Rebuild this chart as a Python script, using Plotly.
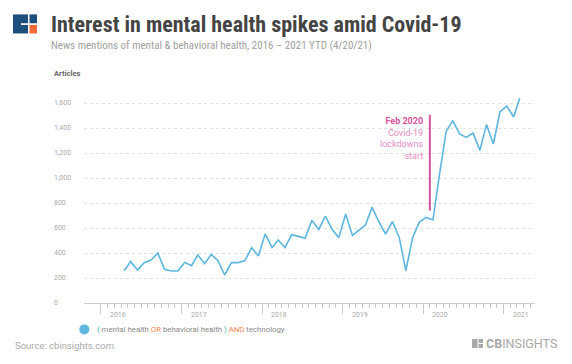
import pandas as pd
import plotly.graph_objects as go

# ---- data ----
months = pd.date_range("2016-04-01", periods=60, freq="MS") + pd.Timedelta(days=14)
articles = [258, 331, 264, 323, 344, 400, 269, 256, 256, 325, 299, 385,
            315, 388, 339, 224, 323, 323, 339, 443, 376, 552, 443, 504,
            443, 547, 533, 517, 661, 589, 696, 587, 523, 712, 541, 584,
            624, 765, 648, 552, 651, 525, 259, 525, 645, 685, 664, 1020,
            1373, 1459, 1352, 1325, 1360, 1221, 1427, 1272, 1528, 1576, 1488, 1640]
y_ticks = [0, 200, 400, 600, 800, 1000, 1200, 1400, 1600]
year_labels = ["2016", "2017", "2018", "2019", "2020", "2021"]

# page has an 8px body margin -> shrink figure and offset everything
OFF = 8
PW, PH = 572, 364
W, H = PW - OFF, PH - OFF
L, R, T, B = 84, 535, 78.4, 302.7   # plot area in page pixels


def px(x):
    return (x - L) / (R - L)


def py(y):
    return (B - y) / (B - T)


LINE = "#5cb6de"
PINK = "#d9529f"
PINK2 = "#e68cc4"

fig = go.Figure()
fig.add_trace(go.Scatter(x=months, y=articles, mode="lines",
                         line=dict(color=LINE, width=1.6), showlegend=False,
                         hoverinfo="x+y"))

ann = []
shapes = []

# y tick labels (left aligned)
for v in y_ticks:
    ann.append(dict(x=px(52), xref="paper", y=v, yref="y", xanchor="left", yanchor="middle",
                    text=f"{v:,}", showarrow=False, font=dict(size=7, color="#aaaaaa", family="Roboto")))

# year labels
for yl in year_labels:
    ann.append(dict(x=f"{yl}-01-01", xref="x", y=py(315), yref="paper", xanchor="left", yanchor="middle",
                    xshift=7, text=yl, showarrow=False, font=dict(size=7, color="#aaaaaa", family="Roboto")))

# titles
ann.append(dict(x=px(49), xref="paper", y=py(25), yref="paper", xanchor="left", yanchor="middle",
                text="<b>Interest in mental health spikes amid Covid-19</b>", showarrow=False,
                font=dict(size=22, color="#444444", family="Roboto Condensed, Roboto")))
ann.append(dict(x=px(49), xref="paper", y=py(46), yref="paper", xanchor="left", yanchor="middle",
                text="News mentions of mental &amp; behavioral health, 2016 \u2013 2021 YTD (4/20/21)", showarrow=False,
                font=dict(size=11, color="#a0a0a0", family="Roboto Condensed, Roboto")))
ann.append(dict(x=px(52), xref="paper", y=py(74), yref="paper", xanchor="left", yanchor="middle",
                text="<b>Articles</b>", showarrow=False,
                font=dict(size=7.5, color="#666666", family="Roboto")))

# covid annotation
shapes.append(dict(type="line", xref="x", yref="y", x0="2020-02-01", x1="2020-02-01", y0=740, y1=1505,
                   line=dict(color=PINK, width=2)))
ann.append(dict(x="2020-02-01", xref="x", y=py(114), yref="paper", xanchor="right", yanchor="top",
                xshift=-5, align="right",
                text=f"<b>Feb 2020</b><br><span style='color:{PINK2}'>Covid-19<br>lockdowns<br>start</span>",
                showarrow=False, font=dict(size=9, color=PINK, family="Roboto")))

# legend
shapes.append(dict(type="circle", xref="paper", yref="paper", xsizemode="pixel", ysizemode="pixel",
                   xanchor=px(84.3), yanchor=py(329), x0=-5, x1=5, y0=-5, y1=5,
                   fillcolor=LINE, line=dict(width=0)))
ann.append(dict(x=px(95), xref="paper", y=py(329), yref="paper", xanchor="left", yanchor="middle",
                text="<span style='color:#3dbf9a'>(</span> mental health <span style='color:#f5834f'>OR</span> "
                     "behavioral health <span style='color:#3dbf9a'>)</span> <span style='color:#f5834f'>AND</span> technology",
                showarrow=False, font=dict(size=7.8, color="#8a8a8a", family="Roboto")))

# source
ann.append(dict(x=px(13), xref="paper", y=py(345), yref="paper", xanchor="left", yanchor="middle",
                text="Source: cbinsights.com", showarrow=False,
                font=dict(size=9.5, color="#aaaaaa", family="Roboto")))

# CB Insights footer logo
ann.append(dict(x=px(559), xref="paper", y=py(343), yref="paper", xanchor="right", yanchor="middle",
                text="<b>CB</b>INSIGHTS", showarrow=False,
                font=dict(size=12.5, color="#a8a8a8", family="Roboto")))
shapes.append(dict(type="rect", xref="paper", yref="paper", x0=px(472), x1=px(477.5), y0=py(347.5), y1=py(338.5),
                   fillcolor="#a8a8a8", line=dict(width=0)))
shapes.append(dict(type="rect", xref="paper", yref="paper", x0=px(478.5), x1=px(483), y0=py(342.5), y1=py(338.5),
                   fillcolor="#a8a8a8", line=dict(width=0)))
shapes.append(dict(type="rect", xref="paper", yref="paper", x0=px(478.5), x1=px(483), y0=py(347.5), y1=py(343.5),
                   fillcolor="#a8a8a8", line=dict(width=0)))

# header logo
NAVY = "#1d4f7c"
ORANGE = "#f26a36"
shapes.append(dict(type="rect", xref="paper", yref="paper", x0=px(13), x1=px(28), y0=py(34), y1=py(15),
                   fillcolor=NAVY, line=dict(width=0)))
shapes.append(dict(type="rect", xref="paper", yref="paper", x0=px(21), x1=px(28), y0=py(25.5), y1=py(23.8),
                   fillcolor="white", line=dict(width=0)))
shapes.append(dict(type="rect", xref="paper", yref="paper", x0=px(29.5), x1=px(37), y0=py(23.8), y1=py(15),
                   fillcolor=NAVY, line=dict(width=0)))
shapes.append(dict(type="rect", xref="paper", yref="paper", x0=px(29.5), x1=px(37), y0=py(34), y1=py(25.5),
                   fillcolor=ORANGE, line=dict(width=0)))

minor_vals = pd.date_range("2016-01-01", "2021-05-01", freq="MS")

fig.update_layout(
    width=W, height=H,
    margin=dict(l=L - OFF, r=PW - R, t=T - OFF, b=PH - B, pad=0),
    paper_bgcolor="white", plot_bgcolor="white",
    showlegend=False,
    annotations=ann, shapes=shapes,
    xaxis=dict(type="date", range=["2015-10-16", "2021-05-23"], showgrid=False, zeroline=False,
               showline=True, linecolor="#cccccc", linewidth=1,
               ticks="outside", ticklen=10, tickcolor="#c8c8c8", tickwidth=1,
               tickmode="array", tickvals=[f"{y}-01-01" for y in year_labels], showticklabels=False,
               minor=dict(tickmode="array", tickvals=list(minor_vals), ticks="outside", ticklen=4,
                          tickcolor="#c8c8c8", tickwidth=1, showgrid=False)),
    yaxis=dict(range=[0, 1800], showgrid=True, gridcolor="#e2e2e2", griddash="dot", gridwidth=1,
               tickmode="array", tickvals=y_ticks[1:], showticklabels=False, zeroline=False,
               showline=False, ticks=""),
)

fig.write_html("out.html")
